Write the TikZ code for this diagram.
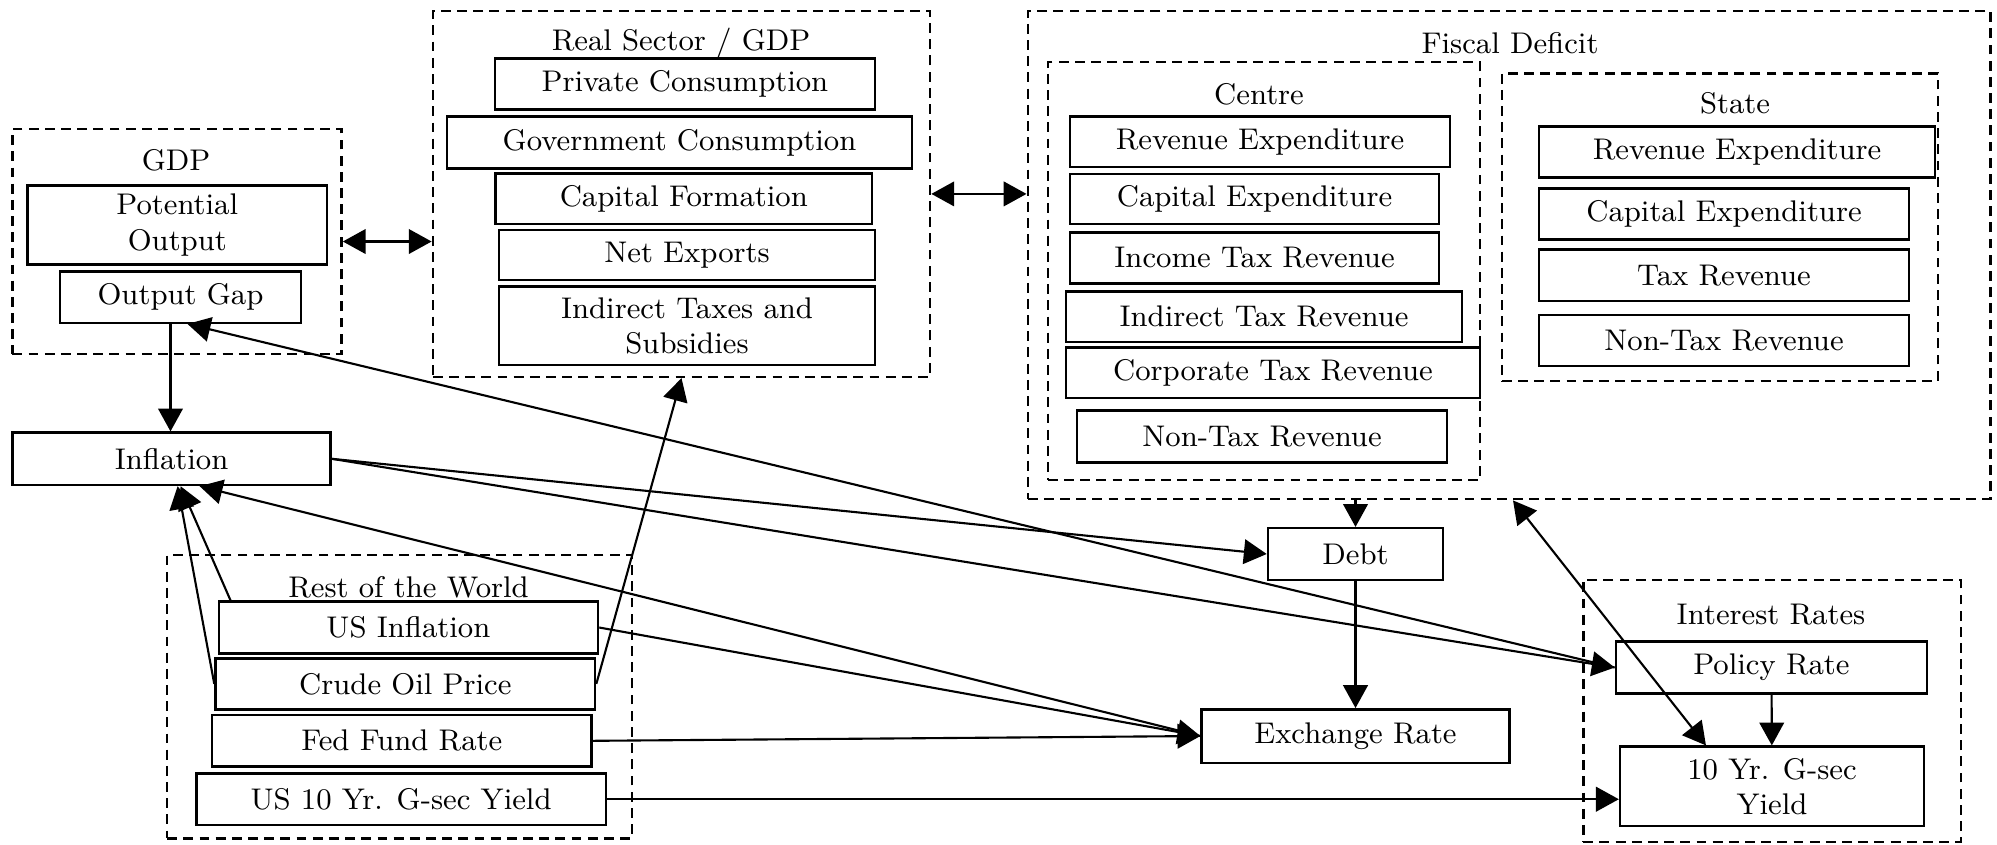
\documentclass[tikz,border=0pt]{standalone}
\usetikzlibrary{arrows.meta}

\tikzset{
  blk/.style={draw, line width=0.7pt, inner sep=0pt, align=center},
  grp/.style={draw, line width=0.7pt, dash pattern=on 2.8pt off 1.8pt, inner sep=0pt},
  lbl/.style={inner sep=0pt, align=center},
  arrow/.style={-{Triangle[length=6.5pt,width=7pt]}, semithick},
  dblarrow/.style={{Triangle[length=6.5pt,width=7pt]}-{Triangle[length=6.5pt,width=7pt]}, semithick}
}

\begin{document}
\begin{tikzpicture}[x=0.01cm, y=-0.01cm, font=\fontsize{8.5}{10}\selectfont]
\useasboundingbox (0,0) rectangle (1997,844);

% groups
\node[grp, minimum width=3.29cm, minimum height=2.25cm] (gdpbox) at (177,241.5) {};
\node[grp, minimum width=4.97cm, minimum height=3.657cm] (rsbox) at (681.5,193.9) {};
\node[grp, minimum width=9.62cm, minimum height=4.88cm] (fdbox) at (1509,255) {};
\node[grp, minimum width=4.32cm, minimum height=4.177cm] (cbox) at (1264,271.2) {};
\node[grp, minimum width=4.36cm, minimum height=3.077cm] (sbox) at (1720,227.2) {};
\node[grp, minimum width=4.643cm, minimum height=2.833cm] (rwbox) at (399.5,696.7) {};
\node[grp, minimum width=3.772cm, minimum height=2.617cm] (irbox) at (1772,710.8) {};

\node[lbl] (gdplbl) at (176,160) {GDP};
\node[lbl] (rslbl) at (681,42.7) {Real Sector / GDP};
\node[lbl] (fdlbl) at (1510,43.3) {Fiscal Deficit};
\node[lbl] (clbl) at (1259,94.3) {Centre};
\node[lbl] (slbl) at (1735,103.3) {State};
\node[lbl] (rwlbl) at (408.5,587) {Rest of the World};
\node[lbl] (irlbl) at (1771,615) {Interest Rates};

% GDP
\node[blk, minimum width=2.99cm, minimum height=0.786cm] (pot) at (177.3,225) {Potential\\Output};
\node[blk, minimum width=2.41cm, minimum height=0.51cm] (gap) at (180.5,297.2) {Output Gap};

% real sector
\node[blk, minimum width=3.795cm, minimum height=0.51cm] (priv) at (685,83.8) {Private Consumption};
\node[blk, minimum width=4.65cm, minimum height=0.516cm] (govt) at (679.5,142.5) {Government Consumption};
\node[blk, minimum width=3.765cm, minimum height=0.507cm] (capf) at (683.8,198.7) {Capital Formation};
\node[blk, minimum width=3.76cm, minimum height=0.50cm] (netx) at (687,255) {Net Exports};
\node[blk, minimum width=3.76cm, minimum height=0.783cm] (indt) at (687,325.8) {Indirect Taxes and\\Subsidies};

% centre
\node[blk, minimum width=3.80cm, minimum height=0.50cm] (crevexp) at (1260,141.7) {Revenue Expenditure};
\node[blk, minimum width=3.69cm, minimum height=0.50cm] (ccapexp) at (1254.5,199) {Capital Expenditure};
\node[blk, minimum width=3.69cm, minimum height=0.51cm] (cinctax) at (1254.5,257.8) {Income Tax Revenue};
\node[blk, minimum width=3.96cm, minimum height=0.50cm] (cindtax) at (1264,316.7) {Indirect Tax Revenue};
\node[blk, minimum width=4.14cm, minimum height=0.50cm] (ccorptax) at (1273,372.7) {Corporate Tax Revenue};
\node[blk, minimum width=3.70cm, minimum height=0.516cm] (cnontax) at (1262,436.5) {Non-Tax Revenue};

% state
\node[blk, minimum width=3.96cm, minimum height=0.506cm] (srevexp) at (1737,152) {Revenue Expenditure};
\node[blk, minimum width=3.70cm, minimum height=0.51cm] (scapexp) at (1724,213.8) {Capital Expenditure};
\node[blk, minimum width=3.70cm, minimum height=0.517cm] (stax) at (1724,275.2) {Tax Revenue};
\node[blk, minimum width=3.70cm, minimum height=0.51cm] (snontax) at (1724,340.5) {Non-Tax Revenue};

% others
\node[blk, minimum width=3.18cm, minimum height=0.523cm] (infl) at (171.6,458.8) {Inflation};
\node[blk, minimum width=1.75cm, minimum height=0.517cm] (debt) at (1355.5,554) {Debt};
\node[blk, minimum width=3.076cm, minimum height=0.534cm] (exch) at (1355.5,736) {Exchange Rate};

% rest of the world
\node[blk, minimum width=3.79cm, minimum height=0.516cm] (usinf) at (408.4,627.5) {US Inflation};
\node[blk, minimum width=3.794cm, minimum height=0.51cm] (crude) at (405.3,683.8) {Crude Oil Price};
\node[blk, minimum width=3.795cm, minimum height=0.517cm] (fed) at (401.8,740.8) {Fed Fund Rate};
\node[blk, minimum width=4.094cm, minimum height=0.517cm] (ustenyr) at (401.1,799.2) {US 10 Yr. G-sec Yield};

% interest rates
\node[blk, minimum width=3.11cm, minimum height=0.516cm] (policy) at (1771.5,667.5) {Policy Rate};
\node[blk, minimum width=3.037cm, minimum height=0.793cm] (gsec) at (1772,786.3) {10 Yr. G-sec\\Yield};

% links
\draw[dblarrow] (gdpbox.east) -- (gdpbox.east -| rsbox.west);
\draw[dblarrow] (rsbox.east) -- (rsbox.east -| fdbox.west);
\draw[arrow] ([xshift=-0.1cm]gap.south) -- ([xshift=-0.1cm]gap.south |- infl.north);
\draw[arrow] (policy.west) -- ([xshift=0.07cm]gap.south);
\draw[arrow] (infl.east) -- (debt.west);
\draw[arrow] (infl.east) -- (policy.west);
\draw[arrow] (exch.west) -- ([xshift=0.28cm]infl.south);
\draw[arrow] ([xshift=0.13cm]usinf.north west) -- ([xshift=0.09cm]infl.south);
\draw[arrow] (crude.west) -- ([xshift=0.06cm]infl.south);
\draw[arrow] (crude.east) -- (rsbox.south);
\draw[arrow] (usinf.east) -- (exch.west);
\draw[arrow] (fed.east) -- (exch.west);
\draw[arrow] (ustenyr.east) -- (ustenyr.east -| gsec.west);
\draw[arrow] (fdbox.south -| debt.north) -- (debt.north);
\draw[arrow] (debt) -- (exch);
\draw[dblarrow] ([xshift=0.04cm]fdbox.south) -- ([xshift=-0.66cm]gsec.north);
\draw[arrow] (policy) -- (gsec);
\end{tikzpicture}
\end{document}
